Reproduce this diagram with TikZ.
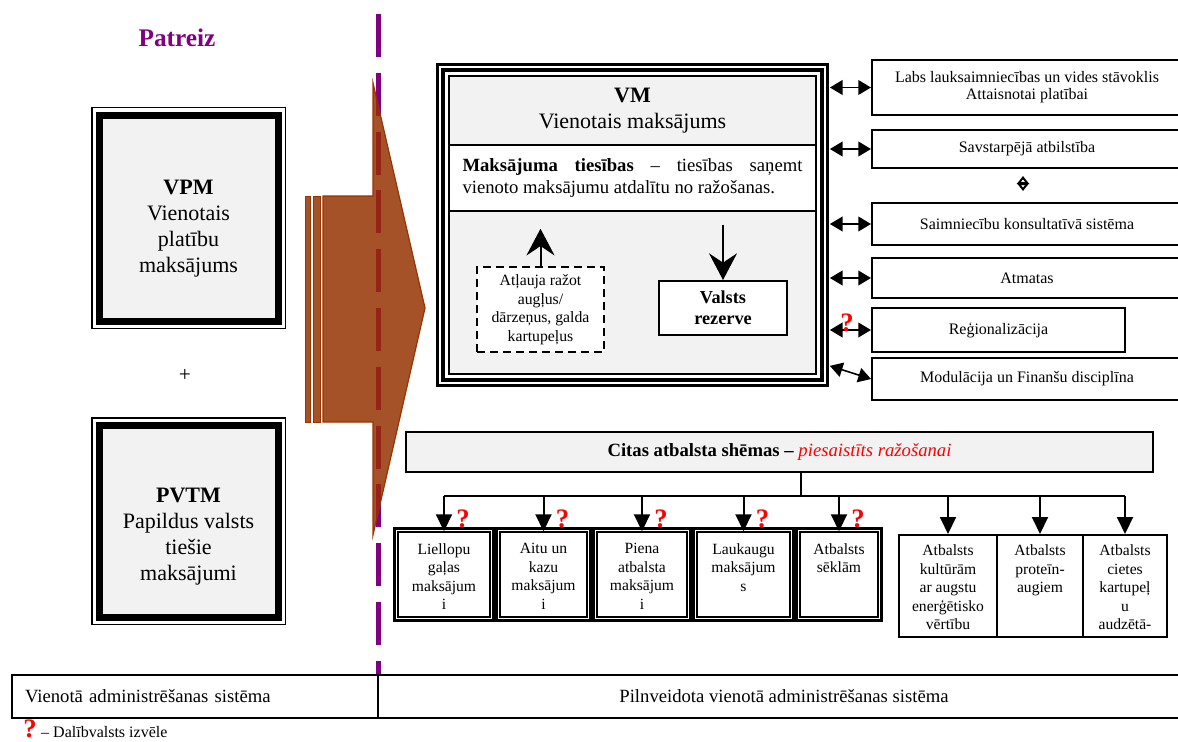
\documentclass[tikz,border=0pt]{standalone}
\usepackage{fontspec}
\setmainfont{Liberation Serif}
\usepackage{xcolor}
\usepackage{tikz}
\usetikzlibrary{calc, positioning, arrows.meta}

\definecolor{boxgray}{RGB}{242,242,242}
\definecolor{nowpurple}{RGB}{128,0,128}
\definecolor{shiftfill}{RGB}{166,82,40}
\definecolor{shiftedge}{RGB}{153,51,0}
\definecolor{shiftdash}{RGB}{150,36,22}

\newcommand{\fsz}[2]{\fontsize{#1}{#2}\selectfont}

\tikzstyle{bigbox} = [rectangle,
fill=boxgray,
draw=black, line width=5.25pt,
preaction={draw=black, line width=12pt},
preaction={draw=white, line width=9.75pt},
minimum width=134.25pt]
\tikzstyle{bigtext} = [align=center, font=\fsz{16.5}{19.5}]
\tikzstyle{vmframe} = [rectangle,
fill=boxgray,
draw=black, line width=1.3pt,
preaction={draw=black, line width=19.5pt},
preaction={draw=white, line width=14.6pt},
preaction={draw=black, line width=12pt},
preaction={draw=white, line width=6pt},
minimum width=275.25pt,
minimum height=223.5pt]
\tikzstyle{sidebox} = [rectangle, draw=black, line width=1.5pt, fill=white,
minimum width=232.5pt, align=center, font=\fsz{12}{12.75}]
\tikzstyle{dblbox} = [rectangle, fill=white,
draw=black, line width=1.1pt,
preaction={draw=black, line width=7.9pt},
preaction={draw=white, line width=3.4pt},
minimum height=63.75pt]
\tikzstyle{plainbox} = [rectangle, draw=black, line width=1.5pt, fill=white,
minimum height=76.5pt]
\tikzstyle{inlbl} = [inner sep=0pt, align=center, font=\fsz{11.7}{13.9}]
\tikzstyle{cell} = [rectangle, draw=black, line width=1.5pt,
minimum height=32.25pt, font=\fsz{14}{14}]
\tikzstyle{qmark} = [inner sep=0pt, text=red, font=\fsz{20}{20}\bfseries]
\tikzstyle{dblarr} = [line width=1.2pt, {Triangle[length=9.5pt,width=11pt]}-{Triangle[length=9.5pt,width=11pt]}]
\tikzstyle{downarr} = [line width=1.5pt, -{Triangle[length=12.75pt,width=12pt]}]
\tikzstyle{bigarr} = [line width=1.5pt, -{Stealth[length=20pt,width=21pt,inset=7pt]}]
\tikzstyle{dashline} = [line width=3.75pt, dash pattern=on 32.25pt off 11.85pt]

\begin{document}
\begin{tikzpicture}[x=0.75pt, y=-0.75pt]
			\useasboundingbox (0,0) rectangle (1178,742);
			
			% patreiz
			\node (now) [text=nowpurple, font=\fsz{19}{19}\bfseries] at (177,38) {Patreiz};
			\node (vpm) [bigbox, minimum height=154.5pt] at (188.5,218) {};
			\node (vpmtxt) [bigtext, yshift=-8.25pt] at (vpm) {\textbf{VPM}\\Vienotais\\platību\\maksājums};
			\node (plus) [font=\fsz{16}{16}] at (185,375) {+};
			\node (pvtm) [bigbox, minimum height=144pt] at (188.5,521) {};
			\node (pvtmtxt) [bigtext, yshift=-12pt] at (pvtm) {\textbf{PVTM}\\Papildus valsts\\tiešie\\maksājumi};
			
			% robeza un pareja
			\draw [nowpurple, dashline] (378.5,14) -- (378.5,675);
			\filldraw [fill=shiftfill, draw=shiftedge, line width=0.6pt] (305,196) rectangle (310,422);
			\filldraw [fill=shiftfill, draw=shiftedge, line width=0.6pt] (313,196) rectangle (320,422);
			\filldraw [fill=shiftfill, draw=shiftedge, line width=0.9pt] (323,196) -- (373,196) -- (373,83) -- (425,308) -- (373,535) -- (373,422) -- (323,422) -- cycle;
			\begin{scope}
				\clip (373,83) -- (425,308) -- (373,535) -- cycle;
				\draw [shiftdash, dashline] (378.5,14) -- (378.5,675);
			\end{scope}
			
			% VM
			\node (vm) [vmframe] at (632.5,225) {};
			\node (vmhead) [bigtext] at (632.5,111) {\textbf{VM}\\Vienotais maksājums};
			\node (tiesibas) [rectangle, draw, fill=white, line width=1.1pt, minimum width=275.25pt, minimum height=49.5pt, inner sep=0pt, text width=255pt, align=justify, font=\fsz{14}{16.5}] at (632.5,178) {\textbf{Maksājuma tiesības} – tiesības saņemt vienoto maksājumu atdalītu no ražošanas.};
			\node (atlauja) [rectangle, draw, fill=white, line width=1.1pt, dash pattern=on 6pt off 3.75pt, minimum width=95.25pt, minimum height=63.75pt, align=center, font=\fsz{11.8}{13.9}] at (540.5,309.5) {Atļauja ražot\\augļus/\\dārzeņus, galda\\kartupeļus};
			\node (rezerve) [rectangle, draw, fill=white, line width=1.5pt, minimum width=96pt, minimum height=40.5pt, align=center, font=\fsz{13.7}{15.75}\bfseries] at (723,308) {Valsts\\rezerve};
			\draw [bigarr, shorten >=12.75pt] (atlauja.north) -- (atlauja.north |- tiesibas.south);
			\draw [bigarr, shorten <=9.75pt] (tiesibas.south -| rezerve.north) -- (rezerve.north);
			
			% nosacijumi
			\node (labs) [sidebox, minimum height=41.25pt] at (1027,87.5) {Labs lauksaimniecības un vides stāvoklis\\Attaisnotai platībai};
			\node (savst) [sidebox, minimum height=28.5pt] at (1027,149) {Savstarpējā atbilstība};
			\node (konsult) [sidebox, minimum height=31.5pt] at (1027,224) {Saimniecību konsultatīvā sistēma};
			\node (atmatas) [sidebox, minimum height=30pt] at (1027,278) {Atmatas};
			\node (region) [sidebox, minimum width=189.75pt, minimum height=33pt] at (998.5,330) {Reģionalizācija};
			\node (modul) [sidebox, minimum height=31.5pt] at (1027,379) {Modulācija un Finanšu disciplīna};
			\draw [dblarr, shorten <=9.75pt] (vm.east |- labs.west) -- (labs.west);
			\draw [dblarr, shorten <=9.75pt] (vm.east |- savst.west) -- (savst.west);
			\draw [dblarr, shorten <=9.75pt] (vm.east |- konsult.west) -- (konsult.west);
			\draw [dblarr, shorten <=9.75pt] (vm.east |- atmatas.west) -- (atmatas.west);
			\draw [dblarr, shorten <=9.75pt] (vm.east |- region.west) -- (region.west);
			\draw [dblarr] ($(vm.south east)+(13,-9)$) -- (modul.west);
			\draw [line width=1.6pt, {Triangle[open,length=6pt,width=9pt]}-{Triangle[open,length=6pt,width=9pt]}, shorten <=5.25pt, shorten >=8.25pt] ($(savst.south)+(-4,0)$) -- ($(konsult.north)+(-4,0)$);
			\node (regq) [qmark] at ($(region.west)+(-24,-7)$) {?};
			
			% citas shemas
			\node (citas) [rectangle, draw, fill=boxgray, line width=1.9pt, minimum width=560.25pt, minimum height=30pt, font=\fsz{14}{14}] at (779.5,452) {\textbf{Citas atbalsta shēmas –} \textcolor{red}{\textit{piesaistīts ražošanai}}};
			\node (liellopu) [dblbox, minimum width=69pt] at (444,574.5) {};
			\node (aitas) [dblbox, minimum width=65.25pt] at (543.5,574.5) {};
			\node (piens) [dblbox, minimum width=67.5pt] at (642,574.5) {};
			\node (laukaugi) [dblbox, minimum width=69.75pt] at (743.5,574.5) {};
			\node (seklas) [dblbox, minimum width=58.5pt] at (839,574.5) {};
			\node (energija) [plainbox, minimum width=73.5pt] at (948,586) {};
			\node (proteins) [plainbox, minimum width=64.5pt] at (1040,586) {};
			\node (kartupeli) [plainbox, minimum width=63pt] at (1125,586) {};
			\node [inlbl, below=9pt of liellopu.north] {Liellopu\\gaļas\\maksājum\\i};
			\node [inlbl, below=9pt of aitas.north] {Aitu un\\kazu\\maksājum\\i};
			\node [inlbl, below=9pt of piens.north] {Piena\\atbalsta\\maksājum\\i};
			\node [inlbl, below=9pt of laukaugi.north] {Laukaugu\\maksājum\\s};
			\node [inlbl, below=9pt of seklas.north] {Atbalsts\\sēklām};
			\node [inlbl, below=8pt of energija.north] {Atbalsts\\kultūrām\\ar augstu\\enerģētisko\\vērtību};
			\node [inlbl, below=8pt of proteins.north] {Atbalsts\\proteīn-\\augiem};
			\node [inlbl, below=8pt of kartupeli.north] {Atbalsts\\cietes\\kartupeļ\\u\\audzētā-};
			
			\coordinate (bus) at (801,496);
			\draw [line width=1.5pt] (citas.south -| bus) -- (bus);
			\draw [line width=1.5pt] (liellopu.north |- bus) -- (kartupeli.north |- bus);
			\foreach \b in {liellopu, aitas, piens, laukaugi, seklas, energija, proteins, kartupeli}
				\draw [downarr] (\b.north |- bus) -- (\b.north);
			\foreach \b in {liellopu, aitas, piens, laukaugi, seklas}
				\node [qmark] at ($(\b.north)+(19,-12)$) {?};
			
			% administresana
			\node (oldadmin) [cell, minimum width=274.5pt, inner xsep=9.75pt, text width=255pt, align=left] at (195,696.5) {Vienotā administrēšanas sistēma};
			\node (newadmin) [cell, minimum width=609pt] at (784,696.5) {Pilnveidota vienotā administrēšanas sistēma};
			
			\node (legq) [qmark, anchor=base] at (30,737) {?};
			\node (legtxt) [anchor=base west, inner sep=0pt, font=\fsz{12}{12}] at ([xshift=3pt]legq.base east) {– Dalībvalsts izvēle};
		\end{tikzpicture}
\end{document}
